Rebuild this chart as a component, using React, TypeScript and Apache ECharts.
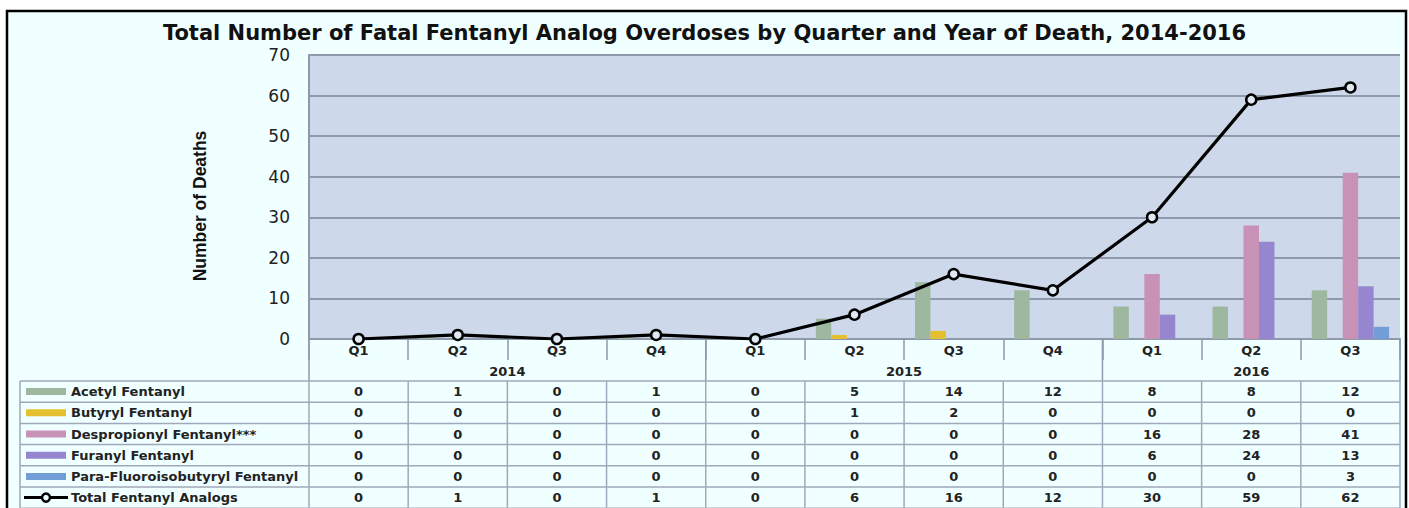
import React, { useEffect, useRef } from 'react';
import * as echarts from 'echarts';

const titleText = 'Total Number of Fatal Fentanyl Analog Overdoses by Quarter and Year of Death, 2014-2016';
const yAxisTitle = 'Number of Deaths';
const quarters = ['Q1', 'Q2', 'Q3', 'Q4', 'Q1', 'Q2', 'Q3', 'Q4', 'Q1', 'Q2', 'Q3'];
const yearLabels = ['2014', '2015', '2016'];
const yearSpans = [4, 4, 3];

const seriesNames = [
  'Acetyl Fentanyl',
  'Butyryl Fentanyl',
  'Despropionyl Fentanyl***',
  'Furanyl Fentanyl',
  'Para-Fluoroisobutyryl Fentanyl',
];
const acetyl = [0, 1, 0, 1, 0, 5, 14, 12, 8, 8, 12];
const butyryl = [0, 0, 0, 0, 0, 1, 2, 0, 0, 0, 0];
const despropionyl = [0, 0, 0, 0, 0, 0, 0, 0, 16, 28, 41];
const furanyl = [0, 0, 0, 0, 0, 0, 0, 0, 6, 24, 13];
const paraFluoro = [0, 0, 0, 0, 0, 0, 0, 0, 0, 0, 3];
const totalName = 'Total Fentanyl Analogs';
const total = [0, 1, 0, 1, 0, 6, 16, 12, 30, 59, 62];

const barColors = ['#9db89f', '#e4c030', '#c891b6', '#9686d0', '#729ed8'];

const FONT = 'DejaVu Sans';
const GRID_COLOR = '#8e99ab';
const TABLE_COLOR = '#a0a9ba';

export default function App() {
  const ref = useRef<HTMLDivElement>(null);
  useEffect(() => {
    const chart = echarts.init(ref.current!, null, { renderer: 'svg' });
    const barData = [acetyl, butyryl, despropionyl, furanyl, paraFluoro];
    chart.setOption({
      animation: false,
      backgroundColor: '#ffffff',
      title: {
        text: titleText,
        left: 'center',
        top: 17,
        textStyle: { fontFamily: FONT, fontWeight: 'bold', fontSize: 21, color: '#111' },
      },
      grid: {
        left: 309,
        right: 9,
        top: 55,
        bottom: 169,
        show: true,
        backgroundColor: '#cdd9ea',
        borderWidth: 0,
      },
      xAxis: {
        type: 'category',
        data: quarters,
        axisLine: { show: true, lineStyle: { color: GRID_COLOR, width: 2 } },
        axisTick: { show: true, length: 21, lineStyle: { color: GRID_COLOR, width: 1.5 } },
        axisLabel: { fontFamily: FONT, fontSize: 13, fontWeight: 'bold', color: '#222', margin: 5 },
      },
      yAxis: {
        type: 'value',
        min: 0,
        max: 70,
        interval: 10,
        name: yAxisTitle,
        nameLocation: 'middle',
        nameGap: 100,
        nameRotate: 90,
        nameTextStyle: {
          fontFamily: 'Liberation Sans',
          fontWeight: 'bold',
          fontSize: 17.5,
          color: '#111',
          padding: [0, 18, 0, 0],
        },
        axisLine: { show: true, lineStyle: { color: GRID_COLOR, width: 2 } },
        axisTick: { show: false },
        axisLabel: { fontFamily: FONT, fontSize: 17, color: '#222', margin: 19 },
        splitLine: { lineStyle: { color: GRID_COLOR, width: 2 } },
      },
      series: [
        ...seriesNames.map((name, k) => ({
          name,
          type: 'bar',
          data: barData[k],
          barGap: '0%',
          barCategoryGap: '22%',
          itemStyle: { color: barColors[k] },
        })),
        {
          name: totalName,
          type: 'line',
          data: total,
          symbol: 'circle',
          symbolSize: 10,
          lineStyle: { color: '#000', width: 3.2 },
          itemStyle: { color: '#dfe8f3', borderColor: '#000', borderWidth: 2.5 },
          z: 5,
        },
      ],
    });

    const xs = quarters.map((_, i) => chart.convertToPixel({ xAxisIndex: 0 }, i) as number);
    const cw = xs.length > 1 ? xs[1] - xs[0] : 99;
    const bounds = quarters.map((_, i) => xs[i] - cw / 2);
    bounds.push(xs[xs.length - 1] + cw / 2);
    const y0 = chart.convertToPixel({ yAxisIndex: 0 }, 0) as number;
    const tableTop = 381;
    const rowH = 21.2;
    const tableLeft = 20;
    const right = bounds[bounds.length - 1];

    const g: any[] = [];
    g.push({
      type: 'rect',
      z: -100,
      silent: true,
      shape: { x: 7, y: 11, width: 1399, height: 520 },
      style: { fill: '#f0ffff', stroke: '#000', lineWidth: 2.5 },
    });
    let start = 0;
    const yearBoundaryIdx = [0];
    yearSpans.forEach((span, j) => {
      const a = bounds[start];
      const b = bounds[start + span];
      g.push({
        type: 'text',
        style: {
          text: yearLabels[j],
          x: (a + b) / 2,
          y: 371,
          align: 'center',
          verticalAlign: 'middle',
          fontFamily: FONT,
          fontSize: 13,
          fontWeight: 'bold',
          fill: '#222',
        },
      });
      start += span;
      yearBoundaryIdx.push(start);
    });
    yearBoundaryIdx.forEach((idx) => {
      g.push({
        type: 'line',
        shape: { x1: bounds[idx], y1: y0, x2: bounds[idx], y2: tableTop },
        style: { stroke: GRID_COLOR, lineWidth: 1.5 },
      });
    });
    const rowCount = seriesNames.length + 1;
    for (let r = 0; r <= rowCount; r++) {
      const y = tableTop + r * rowH;
      g.push({
        type: 'line',
        shape: { x1: tableLeft, y1: y, x2: right, y2: y },
        style: { stroke: TABLE_COLOR, lineWidth: 1.5 },
      });
    }
    const vxs = [tableLeft, ...bounds];
    vxs.forEach((x) => {
      g.push({
        type: 'line',
        shape: { x1: x, y1: tableTop, x2: x, y2: tableTop + rowCount * rowH },
        style: { stroke: TABLE_COLOR, lineWidth: 1.5 },
      });
    });
    const rowData = [...barData, total];
    const rowNames = [...seriesNames, totalName];
    rowNames.forEach((name, r) => {
      const cy = tableTop + (r + 0.5) * rowH;
      if (r < seriesNames.length) {
        g.push({
          type: 'rect',
          shape: { x: 26, y: cy - 3.5, width: 40, height: 7 },
          style: { fill: barColors[r] },
        });
      } else {
        g.push({
          type: 'line',
          shape: { x1: 24, y1: cy, x2: 68, y2: cy },
          style: { stroke: '#000', lineWidth: 3 },
        });
        g.push({
          type: 'circle',
          shape: { cx: 46, cy, r: 4 },
          style: { fill: '#f0ffff', stroke: '#000', lineWidth: 2.5 },
        });
      }
      g.push({
        type: 'text',
        style: {
          text: name,
          x: 71,
          y: cy,
          align: 'left',
          verticalAlign: 'middle',
          fontFamily: FONT,
          fontSize: 13,
          fontWeight: 'bold',
          fill: '#222',
        },
      });
      rowData[r].forEach((v, i) => {
        g.push({
          type: 'text',
          style: {
            text: String(v),
            x: xs[i],
            y: cy,
            align: 'center',
            verticalAlign: 'middle',
            fontFamily: FONT,
            fontSize: 13,
            fontWeight: 'bold',
            fill: '#222',
          },
        });
      });
    });
    chart.setOption({ graphic: g });
    return () => chart.dispose();
  }, []);
  return <div ref={ref} style={{ position: 'absolute', left: 0, top: 0, width: 1409, height: 508 }} />;
}
